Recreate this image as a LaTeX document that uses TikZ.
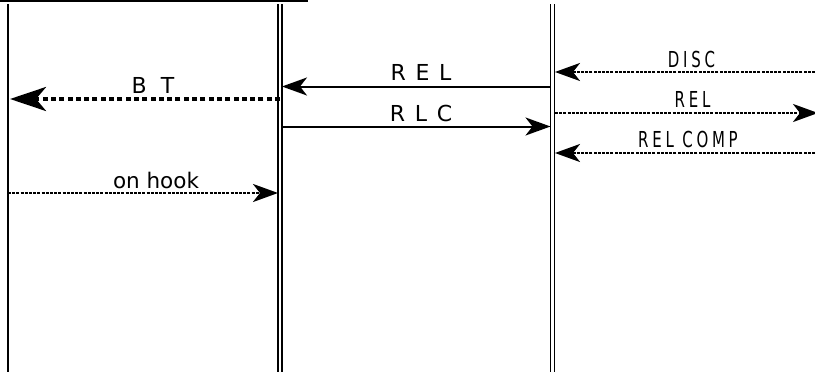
\documentclass[tikz,border=0pt]{standalone}
\usepackage{fontspec}
\setmainfont{DejaVu Sans}
\newfontfamily\narrowfont[FakeStretch=0.68,LetterSpace=17]{DejaVu Sans}
\usetikzlibrary{arrows.meta}

% fixed inter-word gaps for the letter-spaced labels
\newcommand\gapnormal{\fontsize{22}{24}\selectfont\spaceskip 9.7pt\relax}
\newcommand\gapwide{\fontsize{22}{24}\selectfont\spaceskip 14pt\relax}

\tikzset{
  lifeline/.style={line width=1.8pt},
  msg/.style={line width=2pt},
  thinmsg/.style={line width=2.5pt, dash pattern=on 3pt off 1.2pt},
  thickmsg/.style={line width=4.2pt, dash pattern=on 5pt off 3.3pt},
  tip/.style={-{Stealth[length=25pt,width=18pt,inset=7pt]}},
  bigtip/.style={-{Stealth[length=36pt,width=24pt,inset=10pt]}},
  lbl/.style={anchor=base, inner sep=0pt, font=\gapnormal},
  wlbl/.style={anchor=base, inner sep=0pt, font=\gapwide},
  nlbl/.style={anchor=base, inner sep=0pt, font=\narrowfont\fontsize{22}{24}\selectfont},
  olbl/.style={anchor=base, inner sep=0pt, font=\fontsize{21.5}{24}\selectfont},
}

\begin{document}
\begin{tikzpicture}[x=1pt,y=-1pt]
\useasboundingbox (0,0) rectangle (815,372);

% frame edge along the top
\draw[line width=2pt] (0,0.7) -- (308,0.7);

% lifelines
\draw[lifeline, line width=2.2pt] (8,4) -- (8,372);
\draw[lifeline] (278,4) -- (278,372);
\draw[lifeline] (282,4) -- (282,372);
\draw[lifeline] (550.5,4) -- (550.5,372);
\draw[lifeline] (554.5,4) -- (554.5,372);

% message end points
\coordinate (btA) at (280,99);   \coordinate (btB) at (10,99);
\coordinate (relA) at (550.5,86.5); \coordinate (relB) at (282,86.5);
\coordinate (rlcA) at (282,126.5); \coordinate (rlcB) at (550.5,126.5);
\coordinate (discA) at (815,72);  \coordinate (discB) at (555,72);
\coordinate (rrelA) at (555,113); \coordinate (rrelB) at (818,113);
\coordinate (rcA) at (815,153);   \coordinate (rcB) at (555,153);
\coordinate (ohA) at (8,193);     \coordinate (ohB) at (278,193);

% messages
\draw[thickmsg, bigtip] (btA) -- (btB);
\draw[msg, tip] (relA) -- (relB);
\draw[msg, tip] (rlcA) -- (rlcB);
\draw[thinmsg, tip] (discA) -- (discB);
\draw[thinmsg, tip] (rrelA) -- (rrelB);
\draw[thinmsg, tip] (rcA) -- (rcB);
\draw[thinmsg, tip] (ohA) -- (ohB);

% labels
\node[wlbl] (btL) at (153,93) {B T};
\node[lbl] (relL) at (421,80) {R E L};
\node[lbl] (rlcL) at (421,121) {R L C};
\node[nlbl] (discL) at (691.5,67) {DISC};
\node[nlbl] (rrelL) at (692.5,107) {REL};
\node[nlbl] (rcL) at (688,147) {REL COMP};
\node[olbl] (ohL) at (156,188) {on hook};
\end{tikzpicture}
\end{document}
